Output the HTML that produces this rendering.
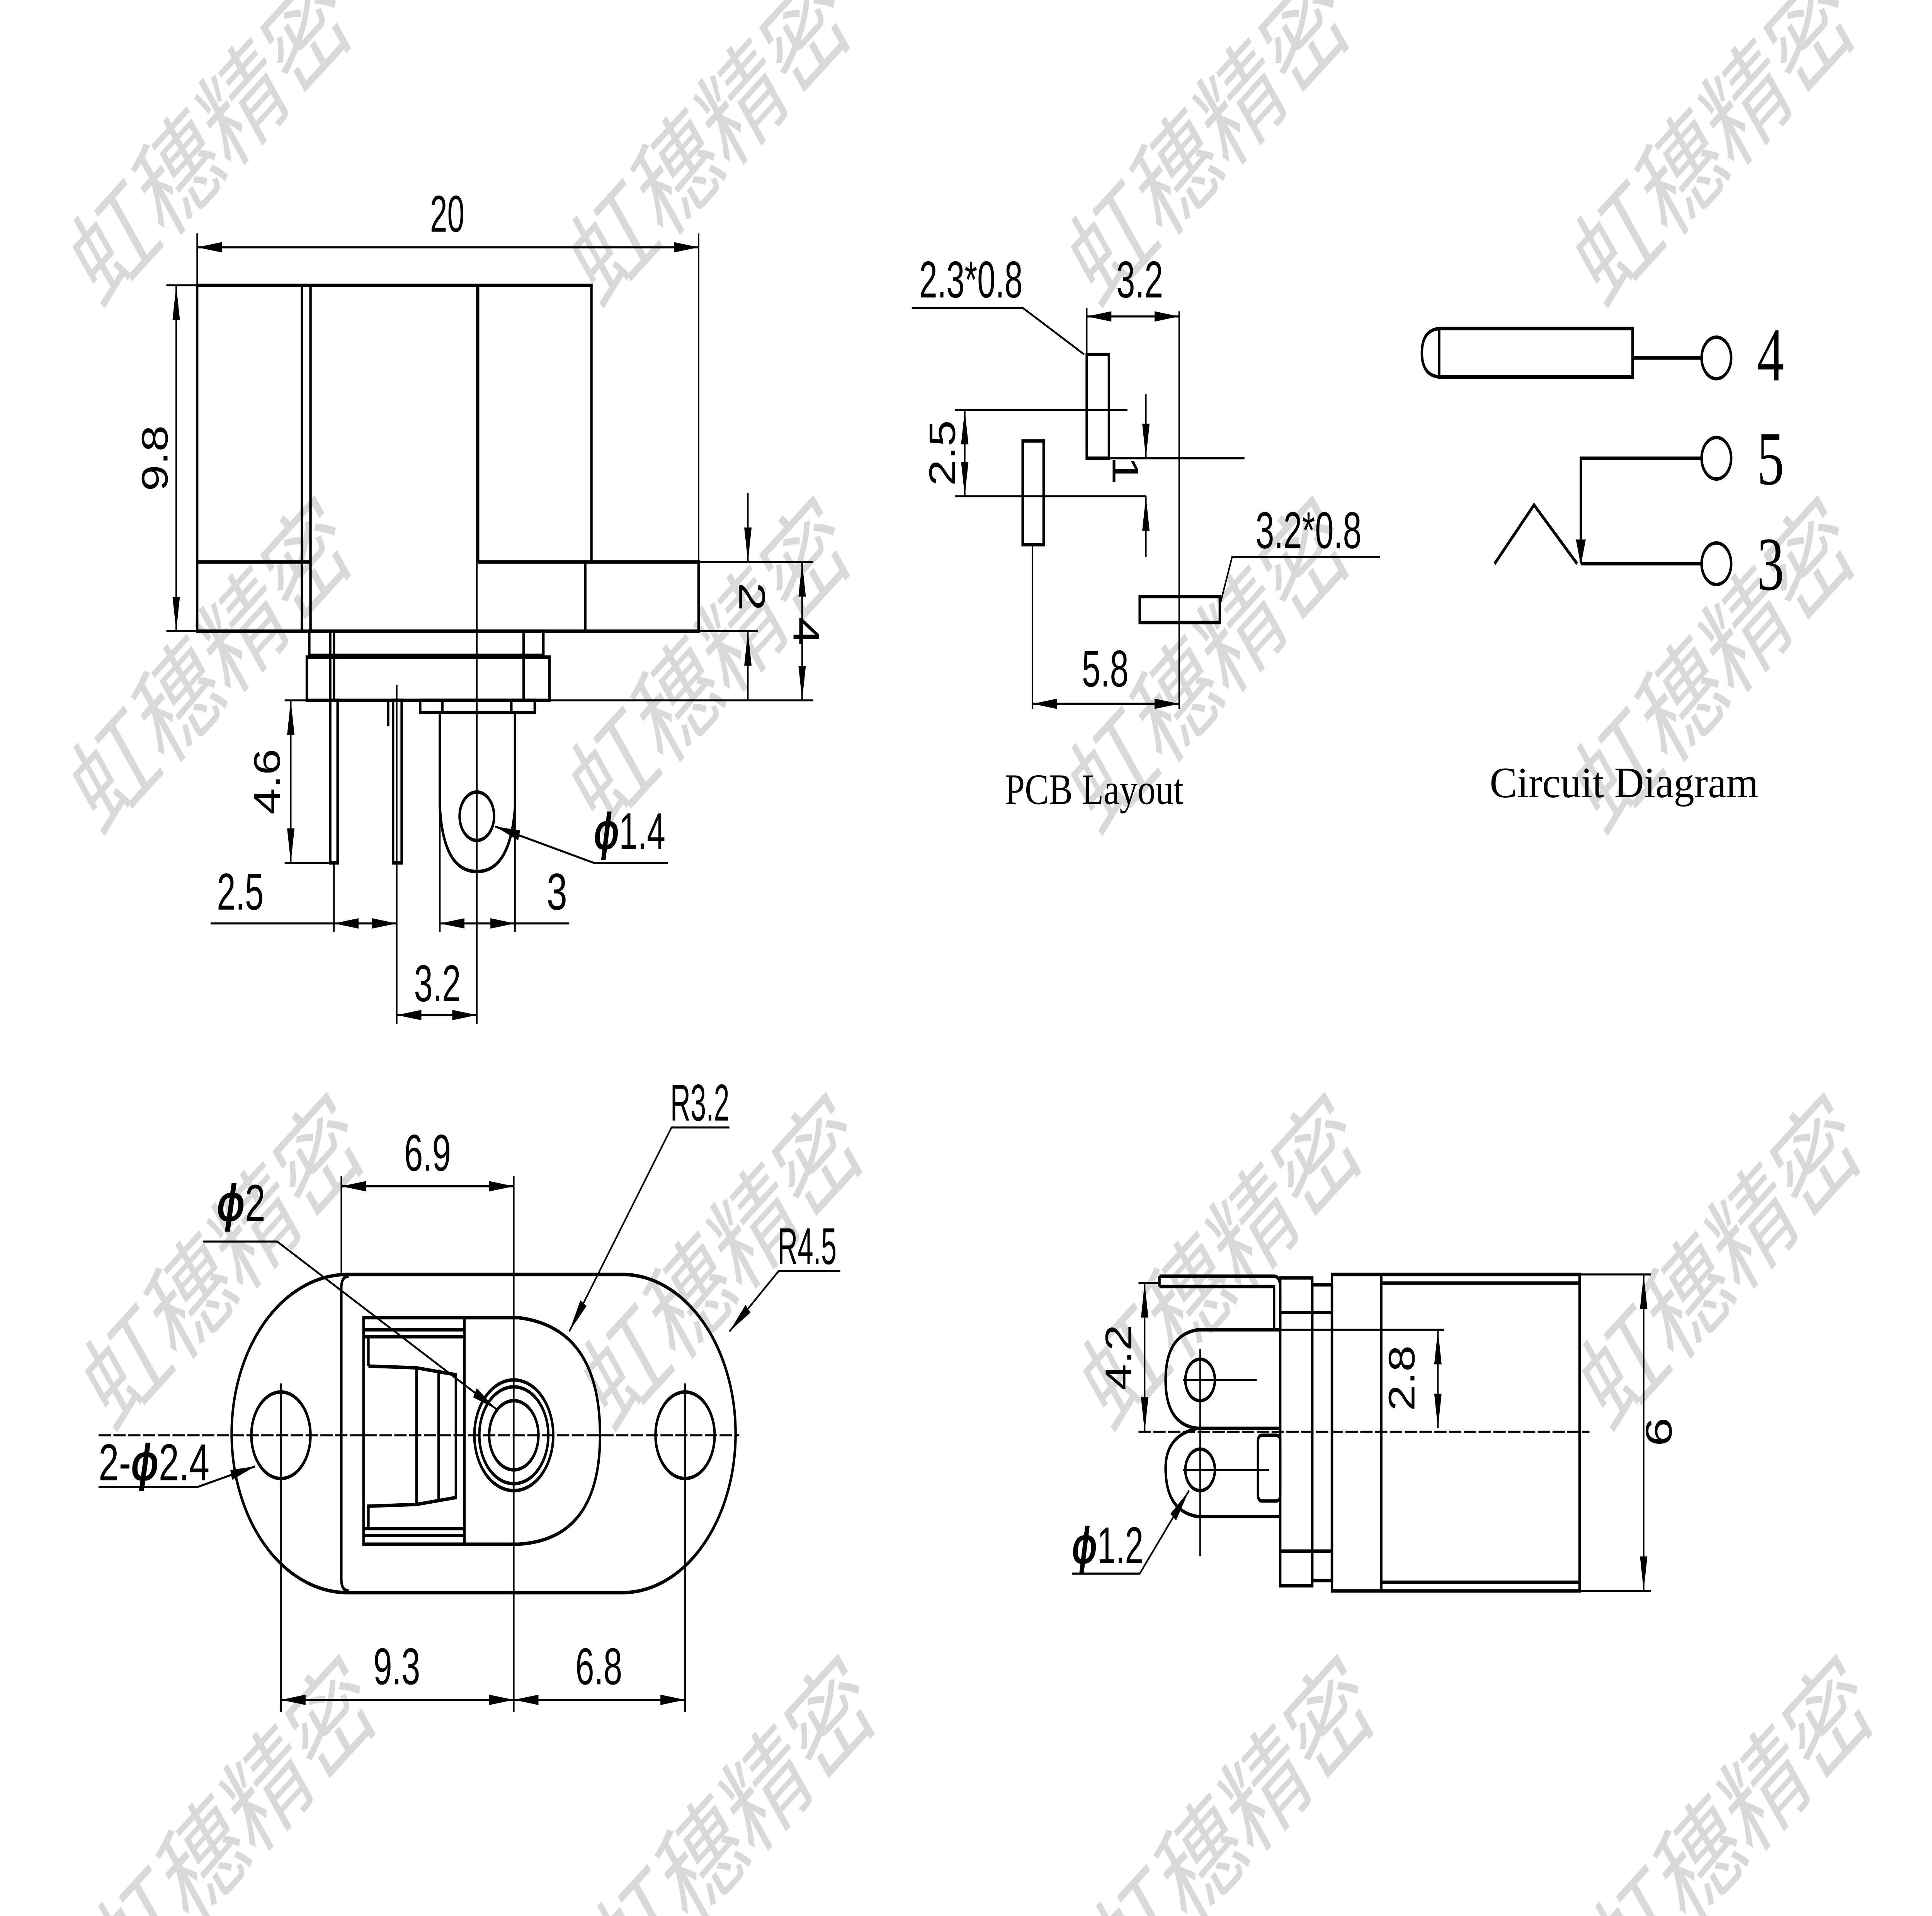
<!DOCTYPE html>
<html><head><meta charset="utf-8"><style>
html,body{margin:0;padding:0;background:#fff;width:100%;height:100%;overflow:hidden;}
svg{display:block;width:100vw;height:100vh;}
.t{font-family:"Liberation Sans Narrow","Liberation Sans",sans-serif;font-size:30px;fill:#000;}
.s{font-family:"Liberation Serif",serif;fill:#000;}
.w{font-family:"Liberation Sans","Noto Sans CJK SC",sans-serif;font-size:66px;fill:#d9d9d9;}
</style></head><body>
<svg viewBox="0 0 1568 1108" preserveAspectRatio="none" xmlns="http://www.w3.org/2000/svg">
<defs>
<marker id="a" viewBox="0 0 20 6" refX="20" refY="3" markerWidth="20" markerHeight="6" markerUnits="userSpaceOnUse" orient="auto-start-reverse"><path d="M0,0L20,3L0,6z" fill="#000"/></marker>
</defs>
<rect width="1568" height="1108" fill="#fff"/>
<g class="w">
<text transform="translate(175,85) rotate(-38)" text-anchor="middle" dominant-baseline="middle">虹穗精密</text>
<text transform="translate(580,85) rotate(-38)" text-anchor="middle" dominant-baseline="middle">虹穗精密</text>
<text transform="translate(985,85) rotate(-38)" text-anchor="middle" dominant-baseline="middle">虹穗精密</text>
<text transform="translate(1395,85) rotate(-38)" text-anchor="middle" dominant-baseline="middle">虹穗精密</text>
<text transform="translate(175,390) rotate(-38)" text-anchor="middle" dominant-baseline="middle">虹穗精密</text>
<text transform="translate(580,390) rotate(-38)" text-anchor="middle" dominant-baseline="middle">虹穗精密</text>
<text transform="translate(985,390) rotate(-38)" text-anchor="middle" dominant-baseline="middle">虹穗精密</text>
<text transform="translate(1395,390) rotate(-38)" text-anchor="middle" dominant-baseline="middle">虹穗精密</text>
<text transform="translate(185,735) rotate(-38)" text-anchor="middle" dominant-baseline="middle">虹穗精密</text>
<text transform="translate(590,735) rotate(-38)" text-anchor="middle" dominant-baseline="middle">虹穗精密</text>
<text transform="translate(995,735) rotate(-38)" text-anchor="middle" dominant-baseline="middle">虹穗精密</text>
<text transform="translate(1400,735) rotate(-38)" text-anchor="middle" dominant-baseline="middle">虹穗精密</text>
<text transform="translate(195,1060) rotate(-38)" text-anchor="middle" dominant-baseline="middle">虹穗精密</text>
<text transform="translate(600,1060) rotate(-38)" text-anchor="middle" dominant-baseline="middle">虹穗精密</text>
<text transform="translate(1005,1060) rotate(-38)" text-anchor="middle" dominant-baseline="middle">虹穗精密</text>
<text transform="translate(1410,1060) rotate(-38)" text-anchor="middle" dominant-baseline="middle">虹穗精密</text>
</g>

<g fill="none" stroke="#000" stroke-width="2">
<path d="M160,165H480V325H567V365H160Z"/>
<path d="M245,165V365M252,165V365M388,165V325M160,325H252M388,325H480M475,325V365"/>
<path d="M251,365H441V379H251Z M249,380H446V405H249Z M268,365V405M271,365V405M425,365V405"/>
<path d="M268,405H274V499H268Z M319,405H326V499H319Z M315,405V420"/>
<path d="M341,405H434V412H341Z M359,405V412M415,405V412"/>
<path d="M357,412V467Q360,504 387,504Q414,504 418,467V412"/>
<circle cx="387" cy="472" r="14"/>
</g>
<g stroke="#000" stroke-width="1.2" fill="none">
<path d="M387,165V592M160,135V165M567,135V325M135,165H160M135,365H160M567,325H660M567,365H615M446,405H660M231,405H268M231,499H268M271,499V539M322,396V592M357,412V539M418,412V539"/>
<line x1="160" y1="143" x2="567" y2="143" marker-start="url(#a)" marker-end="url(#a)"/>
<line x1="143" y1="165" x2="143" y2="365" marker-start="url(#a)" marker-end="url(#a)"/>
<line x1="607" y1="285" x2="607" y2="325" marker-end="url(#a)"/>
<line x1="607" y1="405" x2="607" y2="365" marker-end="url(#a)"/>
<line x1="651" y1="325" x2="651" y2="405" marker-start="url(#a)" marker-end="url(#a)"/>
<line x1="236" y1="405" x2="236" y2="499" marker-start="url(#a)" marker-end="url(#a)"/>
<path d="M171,534H271"/>
<line x1="271" y1="534" x2="322" y2="534" marker-start="url(#a)" marker-end="url(#a)"/>
<line x1="357" y1="534" x2="418" y2="534" marker-start="url(#a)" marker-end="url(#a)"/>
<path d="M418,534H462"/>
<line x1="322" y1="587" x2="387" y2="587" marker-start="url(#a)" marker-end="url(#a)"/>
<polyline points="542,499 482,499 402,478" marker-end="url(#a)"/>
</g>
<g class="t">
<text x="363" y="134" text-anchor="middle" textLength="28" lengthAdjust="spacingAndGlyphs">20</text>
<text transform="translate(136,265) rotate(-90)" text-anchor="middle" textLength="38" lengthAdjust="spacingAndGlyphs">9.8</text>
<text transform="translate(600,345) rotate(90)" text-anchor="middle">2</text>
<text transform="translate(644,365) rotate(90)" text-anchor="middle">4</text>
<text transform="translate(227,452) rotate(-90)" text-anchor="middle" textLength="38" lengthAdjust="spacingAndGlyphs">4.6</text>
<text x="195" y="526" text-anchor="middle" textLength="38" lengthAdjust="spacingAndGlyphs">2.5</text>
<text x="452" y="526" text-anchor="middle">3</text>
<text x="355" y="579" text-anchor="middle" textLength="38" lengthAdjust="spacingAndGlyphs">3.2</text>
<text x="482" y="491" textLength="58" lengthAdjust="spacingAndGlyphs"><tspan font-style="italic" font-weight="bold">ϕ</tspan>1.4</text>
</g>

<g fill="none" stroke="#000" stroke-width="2">
<rect x="882" y="205" width="18" height="60"/>
<rect x="830" y="255" width="17" height="60"/>
<rect x="925" y="345" width="65" height="15"/>
</g>
<g stroke="#000" stroke-width="1.2" fill="none">
<path d="M957,180V410M882,178V205M775,237H915M775,287H930M900,265H1010M838,315V410M740,178H830L880,205"/>
<line x1="882" y1="183" x2="957" y2="183" marker-start="url(#a)" marker-end="url(#a)"/>
<line x1="783" y1="237" x2="783" y2="287" marker-start="url(#a)" marker-end="url(#a)"/>
<line x1="930" y1="228" x2="930" y2="265" marker-end="url(#a)"/>
<line x1="930" y1="322" x2="930" y2="287" marker-end="url(#a)"/>
<line x1="838" y1="407" x2="957" y2="407" marker-start="url(#a)" marker-end="url(#a)"/>
<path d="M1120,322H1000L990,350"/>
</g>
<g class="t">
<text x="788" y="172" text-anchor="middle" textLength="84" lengthAdjust="spacingAndGlyphs">2.3*0.8</text>
<text x="925" y="172" text-anchor="middle" textLength="38" lengthAdjust="spacingAndGlyphs">3.2</text>
<text transform="translate(775,262) rotate(-90)" text-anchor="middle" textLength="38" lengthAdjust="spacingAndGlyphs">2.5</text>
<text transform="translate(903,272) rotate(90)" text-anchor="middle">1</text>
<text x="1062" y="317" text-anchor="middle" textLength="86" lengthAdjust="spacingAndGlyphs">3.2*0.8</text>
<text x="897" y="397" text-anchor="middle" textLength="38" lengthAdjust="spacingAndGlyphs">5.8</text>
</g>
<text class="s" x="888" y="465" font-size="25" text-anchor="middle" textLength="145" lengthAdjust="spacingAndGlyphs">PCB Layout</text>

<g fill="none" stroke="#000" stroke-width="2">
<path d="M1168,190H1325V218H1168Z M1168,190Q1154,191 1154,204Q1154,217 1168,218"/>
<path d="M1325,207H1381"/>
<circle cx="1393" cy="207" r="12"/>
<circle cx="1393" cy="265" r="12"/>
<circle cx="1393" cy="326" r="12"/>
<path d="M1381,265H1283V325"/>
<path d="M1381,326H1283M1213,326L1245,292L1280,326"/>
</g>
<path d="M1279,312L1283,327L1287,312z" fill="#000"/>
<g class="s" font-size="44">
<text x="1437" y="220" text-anchor="middle">4</text>
<text x="1437" y="280" text-anchor="middle">5</text>
<text x="1437" y="341" text-anchor="middle">3</text>
</g>
<text class="s" x="1318" y="461" font-size="25" text-anchor="middle" textLength="218" lengthAdjust="spacingAndGlyphs">Circuit Diagram</text>

<g fill="none" stroke="#000" stroke-width="2">
<path d="M282,737H505A92,92 0 0 1 505,921H282A94,92 0 0 1 282,737Z"/>
<path d="M283,738Q277,738 277,745V913Q277,920 283,920"/>
<rect x="295" y="762" width="82" height="131"/>
<path d="M377,762H421Q487,768 487,830Q487,890 421,893H377"/>
<circle cx="417" cy="830" r="32"/>
<circle cx="417" cy="830" r="28"/>
<circle cx="417" cy="830" r="20"/>
<ellipse cx="228" cy="830" rx="24" ry="25"/>
<ellipse cx="556" cy="830" rx="24" ry="25"/>
<path d="M295,769H377M295,773H377M295,884H377M295,888H377M299,773V790M299,870V884"/>
<path d="M299,790L338,791L370,795V866L338,870L299,871"/>
<path d="M338,791V870M356,792V868"/>
</g>
<g stroke="#000" stroke-width="1.2" fill="none">
<path d="M80,830H600" stroke-dasharray="10,2"/>
<path d="M228,800V990M417,680V990M556,800V990M277,680V737"/>
<line x1="277" y1="686" x2="417" y2="686" marker-start="url(#a)" marker-end="url(#a)"/>
<line x1="228" y1="983" x2="417" y2="983" marker-start="url(#a)" marker-end="url(#a)"/>
<line x1="417" y1="983" x2="556" y2="983" marker-start="url(#a)" marker-end="url(#a)"/>
<polyline points="592,652 545,652 462,770" marker-end="url(#a)"/>
<polyline points="682,735 632,735 592,770" marker-end="url(#a)"/>
<polyline points="165,718 225,718 403,815" marker-end="url(#a)"/>
<polyline points="80,860 160,860 207,848" marker-end="url(#a)"/>
</g>
<g class="t">
<text x="347" y="677" text-anchor="middle" textLength="38" lengthAdjust="spacingAndGlyphs">6.9</text>
<text x="322" y="974" text-anchor="middle" textLength="38" lengthAdjust="spacingAndGlyphs">9.3</text>
<text x="486" y="974" text-anchor="middle" textLength="38" lengthAdjust="spacingAndGlyphs">6.8</text>
<text x="568" y="648" text-anchor="middle" textLength="48" lengthAdjust="spacingAndGlyphs">R3.2</text>
<text x="655" y="731" text-anchor="middle" textLength="48" lengthAdjust="spacingAndGlyphs">R4.5</text>
<text x="176" y="706"><tspan font-style="italic" font-weight="bold">ϕ</tspan>2</text>
<text x="80" y="856" textLength="90" lengthAdjust="spacingAndGlyphs">2-<tspan font-style="italic" font-weight="bold">ϕ</tspan>2.4</text>
</g>

<g fill="none" stroke="#000" stroke-width="2">
<rect x="1081" y="737" width="201" height="183"/>
<path d="M1121,737V920M1121,742H1282M1121,915H1282"/>
<rect x="1039" y="739" width="26" height="178"/>
<rect x="1065" y="743" width="16" height="171"/>
<path d="M1039,759H1065M1039,897H1065M1065,759H1081M1065,897H1081"/>
<path d="M941,738H1034Q1039,738 1039,745V769M941,744H1034V769M941,738V744"/>
<path d="M1039,769H972Q946,772 946,798Q946,824 972,826H1039"/>
<path d="M972,826Q946,830 946,849Q946,874 972,877H1039"/>
<circle cx="974" cy="798" r="12"/>
<circle cx="974" cy="850" r="12"/>
<rect x="1021" y="830" width="18" height="38" rx="3"/>
</g>
<g stroke="#000" stroke-width="1.2" fill="none">
<path d="M924,828H1290" stroke-dasharray="10,2"/>
<path d="M1039,769H1172M924,742H941M1282,737H1340M1282,920H1340M974,780V900M960,798H1020M960,850H1030"/>
<line x1="929" y1="742" x2="929" y2="828" marker-start="url(#a)" marker-end="url(#a)"/>
<line x1="1167" y1="769" x2="1167" y2="826" marker-start="url(#a)" marker-end="url(#a)"/>
<line x1="1334" y1="737" x2="1334" y2="920" marker-start="url(#a)" marker-end="url(#a)"/>
<polyline points="870,910 925,910 965,862" marker-end="url(#a)"/>
</g>
<g class="t">
<text transform="translate(918,785) rotate(-90)" text-anchor="middle" textLength="38" lengthAdjust="spacingAndGlyphs">4.2</text>
<text transform="translate(1148,797) rotate(-90)" text-anchor="middle" textLength="38" lengthAdjust="spacingAndGlyphs">2.8</text>
<text transform="translate(1336,828) rotate(90)" text-anchor="middle">9</text>
<text x="870" y="904" textLength="58" lengthAdjust="spacingAndGlyphs"><tspan font-style="italic" font-weight="bold">ϕ</tspan>1.2</text>
</g>
</svg>
</body></html>
